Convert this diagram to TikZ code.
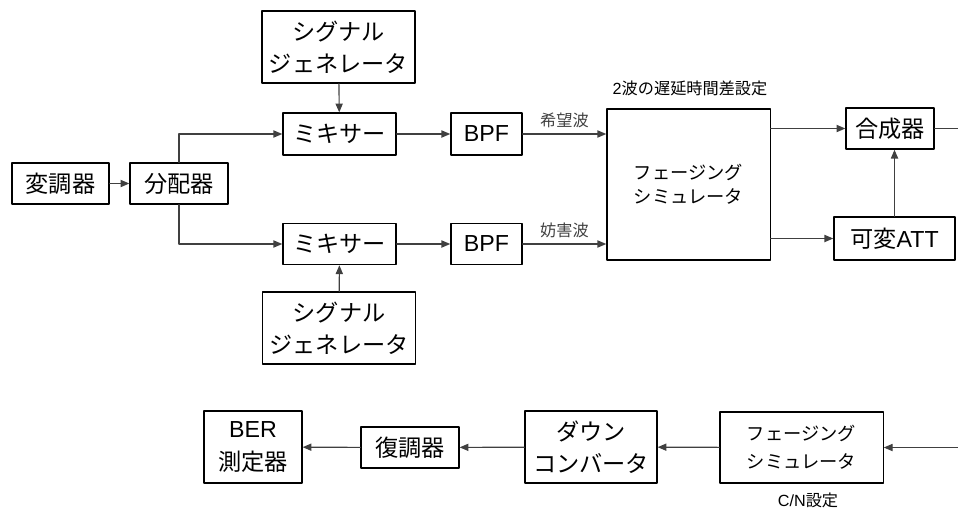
\documentclass[tikz,border=0pt]{standalone}
\usepackage{fontspec}
\setmainfont{Noto Sans CJK JP}
\newfontfamily\lat{Liberation Sans}
\usetikzlibrary{arrows.meta}

\begin{document}
\begin{tikzpicture}[x=0.025cm, y=-0.025cm, line cap=round, line join=round,
  blk/.style={draw, line width=0.9pt, inner sep=0pt, align=center,
    font=\fontsize{16.5}{23}\selectfont},
  fadeblk/.style={blk, font=\fontsize{13}{17}\selectfont},
  lbl/.style={font=\fontsize{11.5}{13}\selectfont},
  conn/.style={line width=0.8pt, black!75},
  sig/.style={conn, -{Triangle[length=2.2mm,width=1.8mm]}}]

  \useasboundingbox (0,0) rectangle (958,508);

  % trasmettitore
  \node[blk, minimum width=2.43cm, minimum height=1.03cm] (mod) at (60.5,183.5) {変調器};
  \node[blk, minimum width=2.45cm, minimum height=1.03cm] (div) at (179,183.5) {分配器};

  % ramo superiore
  \node[blk, minimum width=3.83cm, minimum height=1.8cm] (sgA) at (338.5,47) {シグナル\\ジェネレータ};
  \node[blk, minimum width=2.83cm, minimum height=1.05cm] (mixA) at (339.5,134) {ミキサー};
  \node[blk, minimum width=1.78cm, minimum height=1.05cm] (bpfA) at (486.5,134) {\lat BPF};

  % ramo inferiore
  \node[blk, minimum width=2.83cm, minimum height=1.03cm] (mixB) at (339.5,244) {ミキサー};
  \node[blk, minimum width=1.78cm, minimum height=1.03cm] (bpfB) at (486.5,244) {\lat BPF};
  \node[blk, minimum width=3.83cm, minimum height=1.8cm] (sgB) at (339,328) {シグナル\\ジェネレータ};

  % simulatore e combinatore
  \node[fadeblk, minimum width=4.08cm, minimum height=3.78cm] (fade) at (688.5,184.5) {フェージング\\シミュレータ};
  \node[blk, minimum width=2.2cm, minimum height=1.03cm] (comb) at (890,128.5) {合成器};
  \node[blk, minimum width=3.03cm, minimum height=1.08cm] (att) at (894.5,238.5) {可変{\lat ATT}};
  \node[lbl] (delay) at (690,88) {{\lat 2}波の遅延時間差設定};

  % ricevitore
  \node[blk, minimum width=2.45cm, minimum height=1.8cm] (ber) at (253,447) {{\lat BER}\\測定器};
  \node[blk, minimum width=2.45cm, minimum height=1.03cm] (dem) at (410,447.5) {復調器};
  \node[blk, minimum width=3.3cm, minimum height=1.8cm] (down) at (591,447) {ダウン\\コンバータ};
  \node[fadeblk, minimum width=4.08cm, minimum height=1.78cm,
    font=\fontsize{13}{20}\selectfont] (fade2) at (801.5,447.5) {フェージング\\シミュレータ};
  \node[lbl] (cn) at (808,500) {{\lat C/N}設定};

  % bordi
  \coordinate (outR) at (958,128.5);
  \coordinate (inR) at (958,447.5);

  % collegamenti
  \draw[sig] (mod) -- (div);
  \draw[sig] (div.north) |- (mixA);
  \draw[sig] (div.south) |- (mixB);
  \draw[sig] (sgA) -- (mixA);
  \draw[sig] (sgB) -- (mixB);
  \draw[sig] (mixA) -- (bpfA);
  \draw[sig] (mixB) -- (bpfB);
  \draw[sig] (bpfA.east) -- (bpfA.east -| fade.west)
    node[lbl, midway, above=1pt] {希望波};
  \draw[sig] (bpfB.east) -- (bpfB.east -| fade.west)
    node[lbl, midway, above=1pt] {妨害波};
  \draw[sig] (fade.east |- comb.west) -- (comb.west);
  \draw[sig] (fade.east |- att.west) -- (att.west);
  \draw[sig] (att.north) -- (att.north |- comb.south);
  \draw[conn] (comb.east) -- (outR);
  \draw[sig] (inR) -- (fade2.east);
  \draw[sig] (fade2) -- (down);
  \draw[sig] (down) -- (dem);
  \draw[sig] (dem) -- (ber);
\end{tikzpicture}
\end{document}
